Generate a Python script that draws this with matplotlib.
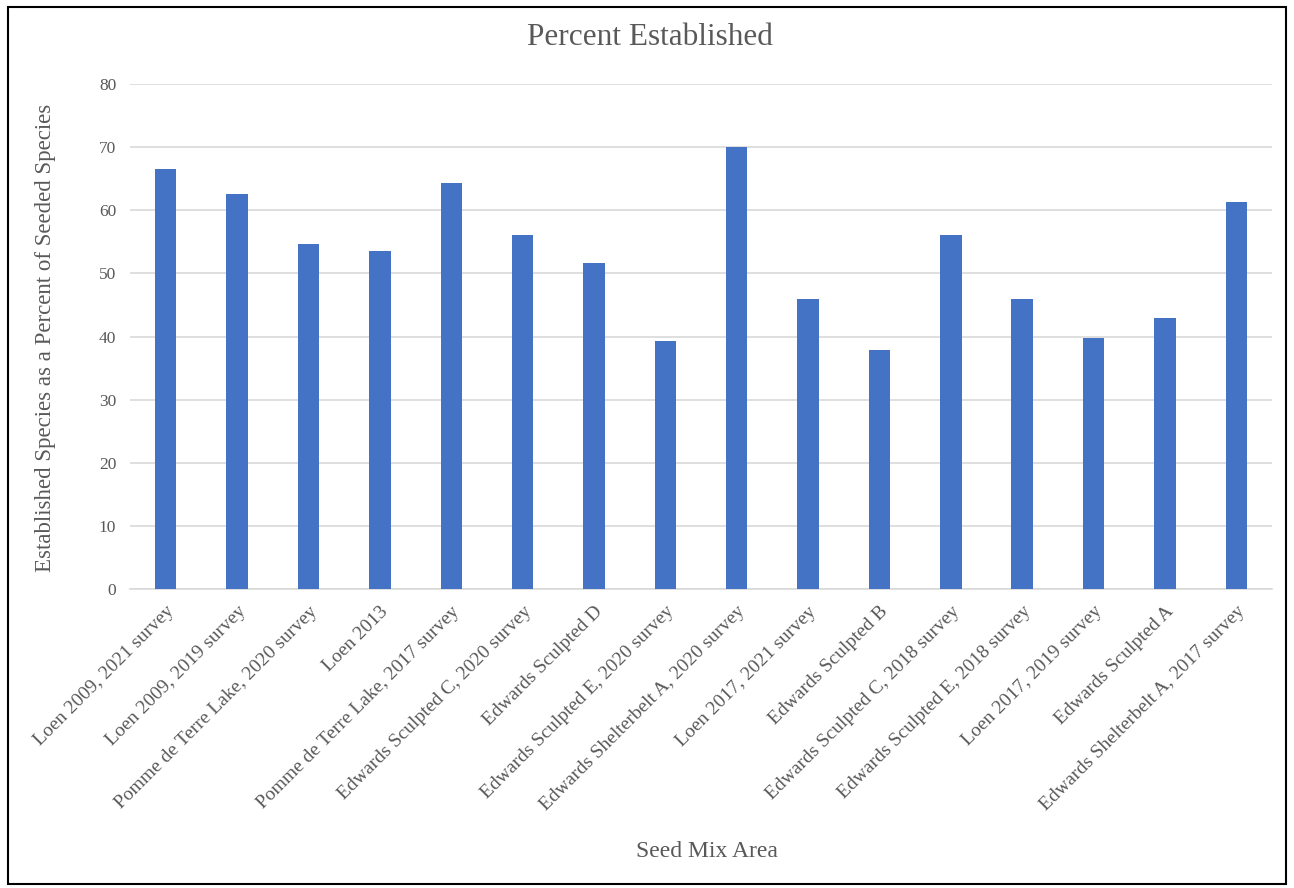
import matplotlib.pyplot as plt
from matplotlib.patches import Rectangle

areas = [
    'Loen 2009, 2021 survey',
    'Loen 2009, 2019 survey',
    'Pomme de Terre Lake, 2020 survey',
    'Loen 2013',
    'Pomme de Terre Lake, 2017 survey',
    'Edwards Sculpted C, 2020 survey',
    'Edwards Sculpted D',
    'Edwards Sculpted E, 2020 survey',
    'Edwards Shelterbelt A, 2020 survey',
    'Loen 2017, 2021 survey',
    'Edwards Sculpted B',
    'Edwards Sculpted C, 2018 survey',
    'Edwards Sculpted E, 2018 survey',
    'Loen 2017, 2019 survey',
    'Edwards Sculpted A',
    'Edwards Shelterbelt A, 2017 survey',
]
pct_established = [66.5, 62.5, 54.7, 53.6, 64.3, 56.1, 51.7, 39.3,
                   70.0, 46.0, 37.9, 56.1, 45.9, 39.7, 42.9, 61.3]
yticks = [0, 10, 20, 30, 40, 50, 60, 70, 80]

plt.rcParams['font.family'] = ['Liberation Serif', 'DejaVu Serif']
grey = '#595959'

fig = plt.figure(figsize=(12.94, 8.88), dpi=100)
ax = fig.add_axes([0.1005, 0.3367, 0.8825, 0.5687])

x = range(len(areas))
ax.bar(x, pct_established, width=0.3, color='#4472C4', zorder=3)

ax.set_xlim(-0.5, len(areas) - 0.5)
ax.set_ylim(0, 80)
ax.set_yticks(yticks)
ax.set_xticks(list(x))
ax.set_xticklabels(areas, rotation=45, ha='right', rotation_mode='anchor')
ax.tick_params(axis='y', length=0, colors=grey, labelsize=12.5, pad=10)
ax.tick_params(axis='x', length=0, colors=grey, labelsize=14, pad=10)

ax.grid(axis='y', color='#d9d9d9', linewidth=1.2, zorder=0)
for side in ['top', 'right', 'left']:
    ax.spines[side].set_visible(False)
ax.spines['bottom'].set_color('#d9d9d9')
ax.spines['bottom'].set_linewidth(1.2)

fig.text(0.035, 0.619, 'Established Species as a Percent of Seeded Species',
         rotation=90, ha='center', va='center', fontsize=16.5, color=grey)
fig.text(0.502, 0.958, 'Percent Established', ha='center', va='center',
         fontsize=22.5, color=grey)
fig.text(0.546, 0.041, 'Seed Mix Area', ha='center', va='center',
         fontsize=17, color=grey)

# outer frame
fig.patches.append(Rectangle((0.006, 0.005), 0.988, 0.987, transform=fig.transFigure,
                             fill=False, edgecolor='black', linewidth=1.5))

fig.savefig('out.png', dpi=100)
